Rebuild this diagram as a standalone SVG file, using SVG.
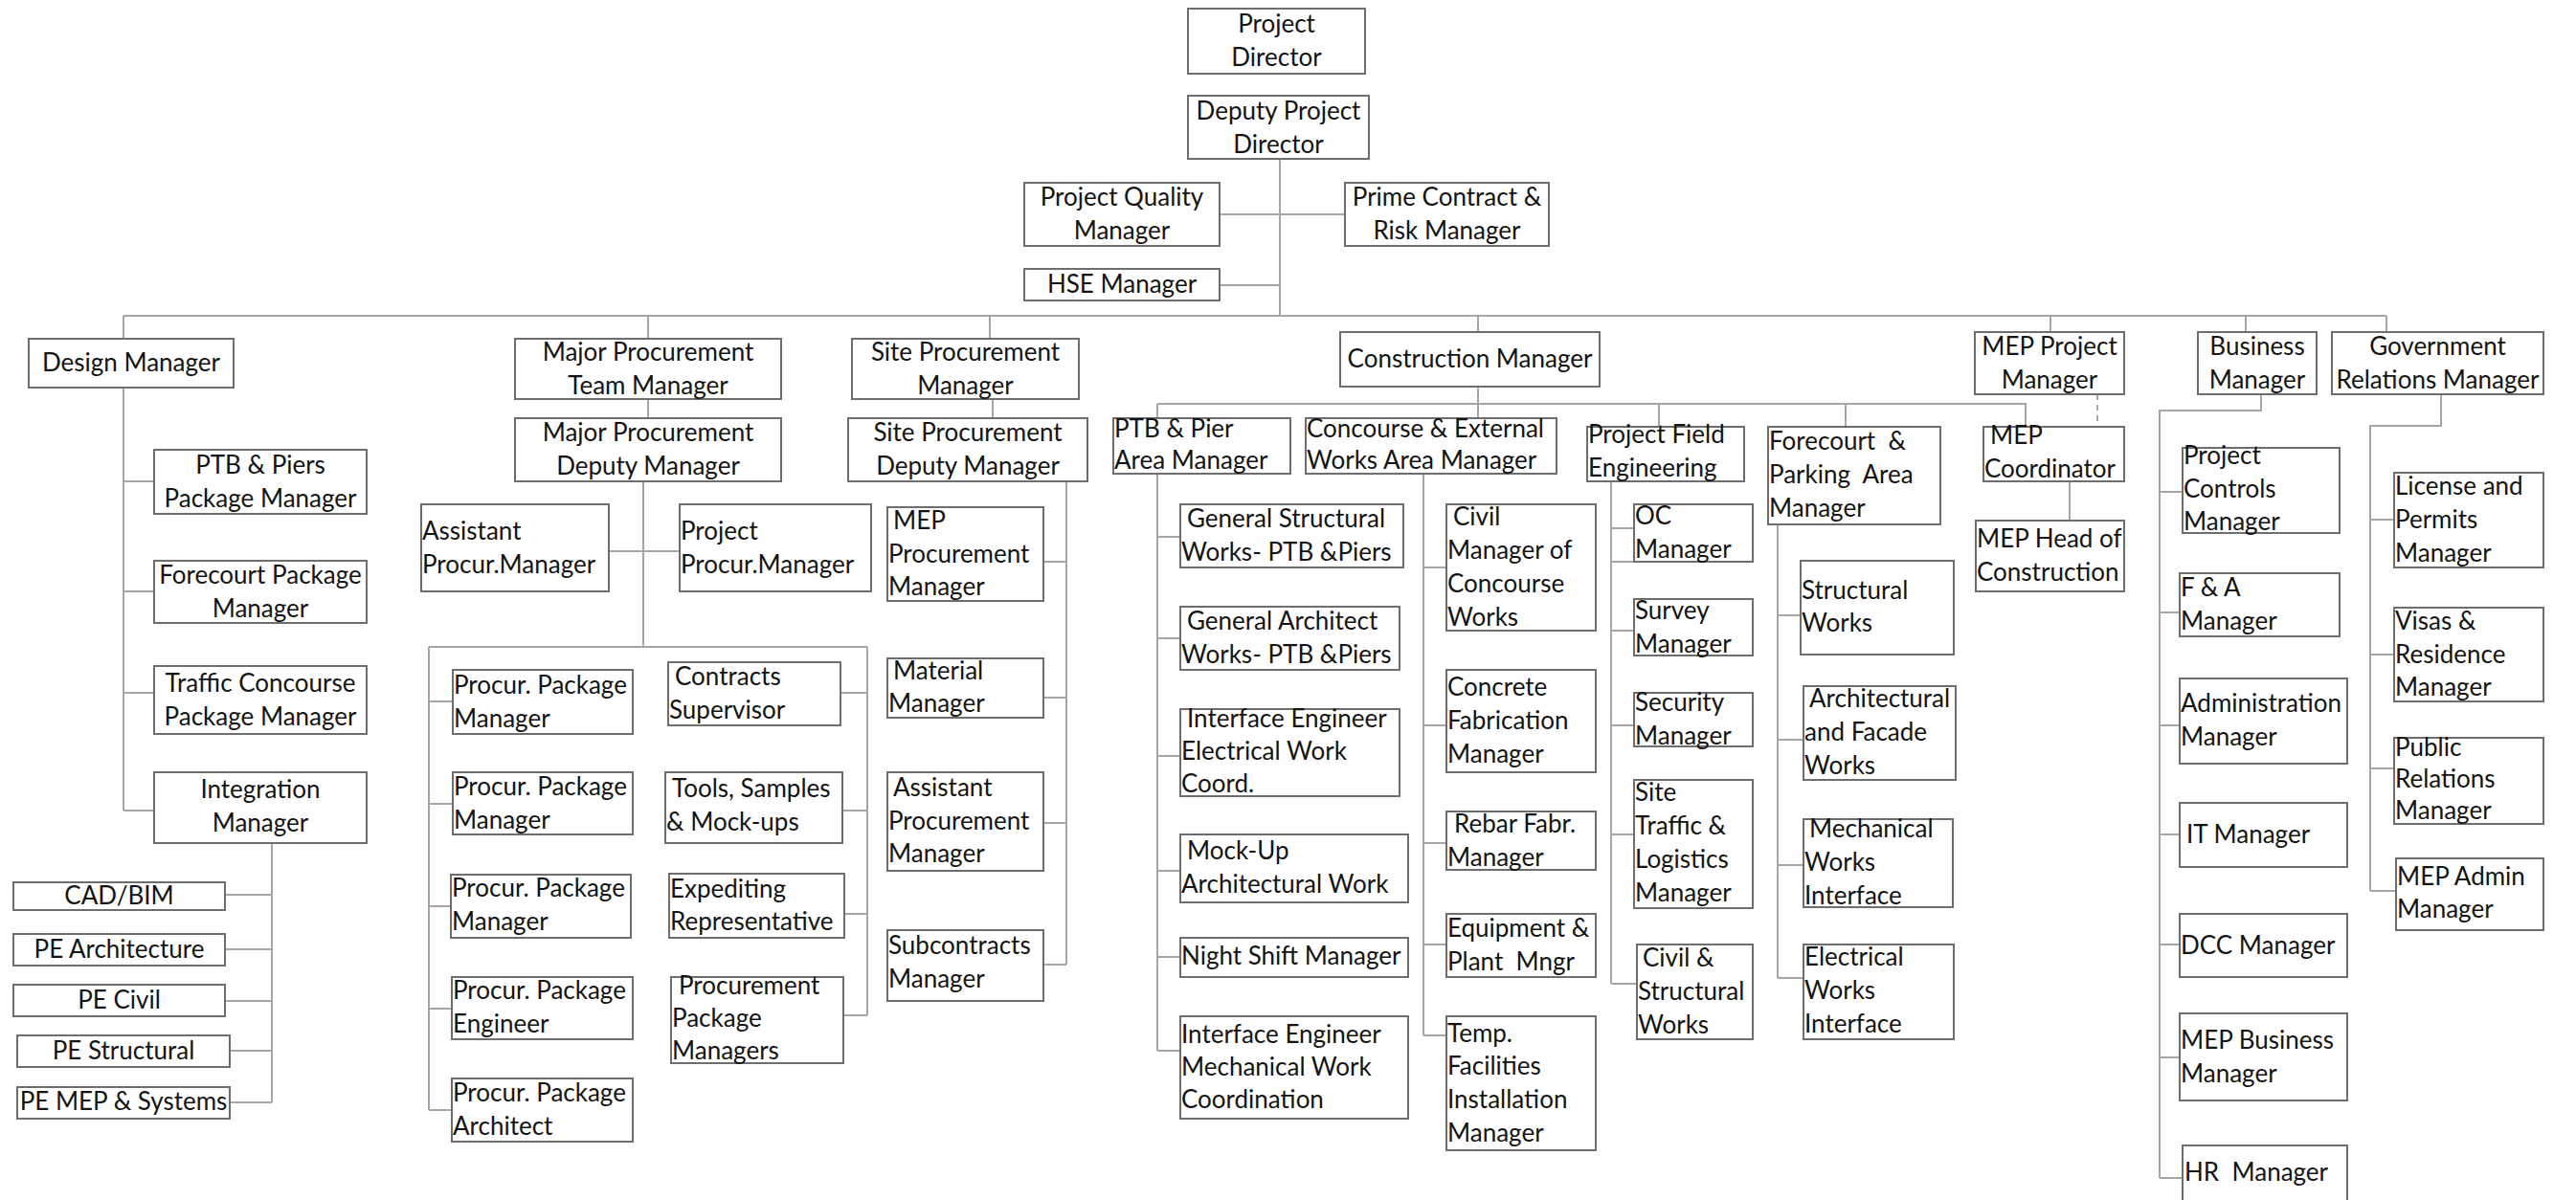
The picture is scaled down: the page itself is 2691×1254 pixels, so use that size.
<svg xmlns="http://www.w3.org/2000/svg" width="2691" height="1254" viewBox="0 0 2691 1254">
<style>
  .bg { fill: #ffffff; }
  .box { fill: #ffffff; stroke: #6e6e6e; stroke-width: 2; }
  .lbl { font-family: Lato, "Liberation Sans", sans-serif; font-size: 26px; fill: #141414; }
  .c { text-anchor: middle; }
  .wire { fill: none; stroke: #a6a6a6; stroke-width: 2; }
  .dash { fill: none; stroke: #a6a6a6; stroke-width: 2; stroke-dasharray: 6 5; }
</style>
<rect class="bg" x="0" y="0" width="2691" height="1254"/>

<!-- reporting lines -->
<g id="connectors">
  <!-- executive level -->
  <path class="wire" d="M1337 166V330M1274 224H1405M1274 298H1337"/>
  <path class="wire" d="M129 330H2493M129 330V354M677 330V354M1034 330V354M1544 330V347M2142 330V347M2346 330V347M2493 330V347"/>
  <!-- design -->
  <path class="wire" d="M129 405V847M129 503H161M129 618H161M129 724H161M129 847H161"/>
  <path class="wire" d="M284 881V1152M235 935H284M235 992H284M235 1046H284M240 1098H284M240 1152H284"/>
  <!-- major procurement -->
  <path class="wire" d="M677 417V437M672 503V676M636 576H710M448 676H906M448 676V1160M906 676V1061"/>
  <path class="wire" d="M448 733H473M448 840H473M448 947H471M448 1054H472M448 1160H472"/>
  <path class="wire" d="M878 724H906M880 847H906M882 955H906M881 1061H906"/>
  <!-- site procurement -->
  <path class="wire" d="M1037 417V437M1114 503V1008M1090 587H1114M1090 729H1114M1090 860H1114M1090 1008H1114"/>
  <!-- construction -->
  <path class="wire" d="M1544 404V437M1209 422H2116V446M1209 422V437M1733 422V446M1928 422V446"/>
  <path class="wire" d="M1209 495V1098M1209 561H1233M1209 667H1233M1209 790H1233M1209 910H1233M1209 1000H1233M1209 1098H1233"/>
  <path class="wire" d="M1487 495V1082M1487 593H1511M1487 758H1511M1487 881H1511M1487 987H1511M1487 1082H1511"/>
  <path class="wire" d="M1683 503V1028M1683 552H1707M1683 587H1707M1683 659H1707M1683 758H1707M1683 872H1707M1683 1028H1710"/>
  <path class="wire" d="M1857 548V1022M1857 643H1881M1857 773H1884M1857 904H1884M1857 1022H1884"/>
  <!-- MEP -->
  <path class="dash" d="M2191 412V446"/>
  <path class="wire" d="M2162 503V544"/>
  <!-- business -->
  <path class="wire" d="M2362 412V429H2256V1231M2256 514H2280M2256 640H2277M2256 758H2277M2256 872H2277M2256 987H2277M2256 1105H2277M2256 1231H2280"/>
  <!-- government relations -->
  <path class="wire" d="M2550 412V445H2476V931M2476 543H2501M2476 684H2501M2476 803H2501M2476 931H2503"/>
</g>

<!-- executive -->
<g id="project-director"><rect class="box" x="1241" y="9" width="185" height="68"/><text class="lbl c"><tspan x="1333.5" y="34">Project</tspan><tspan x="1333.5" y="69">Director</tspan></text></g>
<g id="deputy-project-director"><rect class="box" x="1241" y="100" width="189" height="66"/><text class="lbl c"><tspan x="1335.5" y="125">Deputy Project</tspan><tspan x="1335.5" y="160">Director</tspan></text></g>
<g id="project-quality-manager"><rect class="box" x="1070" y="191" width="204" height="66"/><text class="lbl c"><tspan x="1172" y="215">Project Quality</tspan><tspan x="1172" y="250">Manager</tspan></text></g>
<g id="prime-contract-risk-manager"><rect class="box" x="1405" y="191" width="213" height="66"/><text class="lbl c"><tspan x="1511.5" y="215">Prime Contract &amp;</tspan><tspan x="1511.5" y="250">Risk Manager</tspan></text></g>
<g id="hse-manager"><rect class="box" x="1070" y="281" width="204" height="33"/><text class="lbl c"><tspan x="1172" y="306">HSE Manager</tspan></text></g>

<!-- department heads -->
<g id="design-manager"><rect class="box" x="30" y="354" width="214" height="51"/><text class="lbl c"><tspan x="137" y="388">Design Manager</tspan></text></g>
<g id="major-procurement-team-manager"><rect class="box" x="538" y="354" width="278" height="63"/><text class="lbl c"><tspan x="677" y="377">Major Procurement</tspan><tspan x="677" y="412">Team Manager</tspan></text></g>
<g id="site-procurement-manager"><rect class="box" x="890" y="354" width="237" height="63"/><text class="lbl c"><tspan x="1008.5" y="377">Site Procurement</tspan><tspan x="1008.5" y="412">Manager</tspan></text></g>
<g id="construction-manager"><rect class="box" x="1400" y="347" width="271" height="57"/><text class="lbl c"><tspan x="1535.5" y="384">Construction Manager</tspan></text></g>
<g id="mep-project-manager"><rect class="box" x="2063" y="347" width="156" height="65"/><text class="lbl c"><tspan x="2141" y="371">MEP Project</tspan><tspan x="2141" y="406">Manager</tspan></text></g>
<g id="business-manager"><rect class="box" x="2296" y="347" width="124" height="65"/><text class="lbl c"><tspan x="2358" y="371">Business</tspan><tspan x="2358" y="406">Manager</tspan></text></g>
<g id="government-relations-manager"><rect class="box" x="2436" y="347" width="221" height="65"/><text class="lbl c"><tspan x="2546.5" y="371">Government</tspan><tspan x="2546.5" y="406">Relations Manager</tspan></text></g>

<!-- design -->
<g id="ptb-piers-package-manager"><rect class="box" x="161" y="470" width="222" height="67"/><text class="lbl c"><tspan x="272" y="495">PTB &amp; Piers</tspan><tspan x="272" y="530">Package Manager</tspan></text></g>
<g id="forecourt-package-manager"><rect class="box" x="161" y="586" width="222" height="65"/><text class="lbl c"><tspan x="272" y="610">Forecourt Package</tspan><tspan x="272" y="645">Manager</tspan></text></g>
<g id="traffic-concourse-package-manager"><rect class="box" x="161" y="696" width="222" height="71"/><text class="lbl c"><tspan x="272" y="723">Traffic Concourse</tspan><tspan x="272" y="758">Package Manager</tspan></text></g>
<g id="integration-manager"><rect class="box" x="161" y="807" width="222" height="74"/><text class="lbl c"><tspan x="272" y="834">Integration</tspan><tspan x="272" y="869">Manager</tspan></text></g>
<g id="cad-bim"><rect class="box" x="14" y="922" width="221" height="29"/><text class="lbl c"><tspan x="124.5" y="945">CAD/BIM</tspan></text></g>
<g id="pe-architecture"><rect class="box" x="14" y="976" width="221" height="33"/><text class="lbl c"><tspan x="124.5" y="1001">PE Architecture</tspan></text></g>
<g id="pe-civil"><rect class="box" x="14" y="1029" width="221" height="33"/><text class="lbl c"><tspan x="124.5" y="1054">PE Civil</tspan></text></g>
<g id="pe-structural"><rect class="box" x="18" y="1082" width="222" height="33"/><text class="lbl c"><tspan x="129" y="1107">PE Structural</tspan></text></g>
<g id="pe-mep-systems"><rect class="box" x="18" y="1136" width="222" height="33"/><text class="lbl c"><tspan x="129" y="1160">PE MEP &amp; Systems</tspan></text></g>

<!-- major procurement -->
<g id="major-procurement-deputy-manager"><rect class="box" x="538" y="437" width="278" height="66"/><text class="lbl c"><tspan x="677" y="461">Major Procurement</tspan><tspan x="677" y="496">Deputy Manager</tspan></text></g>
<g id="assistant-procur-manager"><rect class="box" x="440" y="527" width="196" height="91"/><text class="lbl"><tspan x="441" y="564">Assistant</tspan><tspan x="441" y="599">Procur.Manager</tspan></text></g>
<g id="project-procur-manager"><rect class="box" x="710" y="527" width="200" height="91"/><text class="lbl"><tspan x="711" y="564">Project</tspan><tspan x="711" y="599">Procur.Manager</tspan></text></g>
<g id="procur-package-manager-1"><rect class="box" x="473" y="700" width="188" height="67"/><text class="lbl"><tspan x="474" y="725">Procur. Package</tspan><tspan x="474" y="760">Manager</tspan></text></g>
<g id="procur-package-manager-2"><rect class="box" x="473" y="807" width="188" height="65"/><text class="lbl"><tspan x="474" y="831">Procur. Package</tspan><tspan x="474" y="866">Manager</tspan></text></g>
<g id="procur-package-manager-3"><rect class="box" x="471" y="914" width="188" height="66"/><text class="lbl"><tspan x="472" y="937">Procur. Package</tspan><tspan x="472" y="972">Manager</tspan></text></g>
<g id="procur-package-engineer"><rect class="box" x="472" y="1021" width="189" height="65"/><text class="lbl"><tspan x="473" y="1044">Procur. Package</tspan><tspan x="473" y="1079">Engineer</tspan></text></g>
<g id="procur-package-architect"><rect class="box" x="472" y="1127" width="189" height="66"/><text class="lbl"><tspan x="473" y="1151">Procur. Package</tspan><tspan x="473" y="1186">Architect</tspan></text></g>
<g id="contracts-supervisor"><rect class="box" x="698" y="692" width="180" height="66"/><text class="lbl"><tspan x="705" y="716">Contracts</tspan><tspan x="699" y="751">Supervisor</tspan></text></g>
<g id="tools-samples-mockups"><rect class="box" x="695" y="807" width="185" height="74"/><text class="lbl"><tspan x="702" y="833">Tools, Samples</tspan><tspan x="696" y="868">&amp; Mock-ups</tspan></text></g>
<g id="expediting-representative"><rect class="box" x="699" y="913" width="183" height="67"/><text class="lbl"><tspan x="700" y="938">Expediting</tspan><tspan x="700" y="972">Representative</tspan></text></g>
<g id="procurement-package-managers"><rect class="box" x="701" y="1021" width="180" height="90"/><text class="lbl"><tspan x="709" y="1039">Procurement</tspan><tspan x="702" y="1073">Package</tspan><tspan x="702" y="1107">Managers</tspan></text></g>

<!-- site procurement -->
<g id="site-procurement-deputy-manager"><rect class="box" x="886" y="437" width="250" height="66"/><text class="lbl c"><tspan x="1011" y="461">Site Procurement</tspan><tspan x="1011" y="496">Deputy Manager</tspan></text></g>
<g id="mep-procurement-manager"><rect class="box" x="927" y="530" width="163" height="98"/><text class="lbl"><tspan x="933" y="553">MEP</tspan><tspan x="928" y="588">Procurement</tspan><tspan x="928" y="622">Manager</tspan></text></g>
<g id="material-manager"><rect class="box" x="927" y="688" width="163" height="62"/><text class="lbl"><tspan x="933" y="710">Material</tspan><tspan x="928" y="744">Manager</tspan></text></g>
<g id="assistant-procurement-manager"><rect class="box" x="927" y="807" width="163" height="103"/><text class="lbl"><tspan x="933" y="832">Assistant</tspan><tspan x="928" y="867">Procurement</tspan><tspan x="928" y="901">Manager</tspan></text></g>
<g id="subcontracts-manager"><rect class="box" x="927" y="972" width="163" height="74"/><text class="lbl"><tspan x="928" y="997">Subcontracts</tspan><tspan x="928" y="1032">Manager</tspan></text></g>

<!-- construction: area managers -->
<g id="ptb-pier-area-manager"><rect class="box" x="1163" y="437" width="185" height="58"/><text class="lbl"><tspan x="1164" y="457">PTB &amp; Pier</tspan><tspan x="1164" y="490">Area Manager</tspan></text></g>
<g id="concourse-external-works-area-manager"><rect class="box" x="1364" y="437" width="262" height="58"/><text class="lbl"><tspan x="1365" y="457">Concourse &amp; External</tspan><tspan x="1365" y="490">Works Area Manager</tspan></text></g>
<g id="project-field-engineering"><rect class="box" x="1658" y="446" width="164" height="57"/><text class="lbl"><tspan x="1659" y="463">Project Field</tspan><tspan x="1659" y="498">Engineering</tspan></text></g>
<g id="forecourt-parking-area-manager"><rect class="box" x="1847" y="446" width="180" height="102"/><text class="lbl" xml:space="preserve"><tspan x="1848" y="470">Forecourt  &amp;</tspan><tspan x="1848" y="505">Parking  Area</tspan><tspan x="1848" y="540">Manager</tspan></text></g>

<!-- PTB & Pier -->
<g id="general-structural-works"><rect class="box" x="1233" y="527" width="233" height="66"/><text class="lbl"><tspan x="1240" y="551">General Structural</tspan><tspan x="1234" y="586">Works- PTB &amp;Piers</tspan></text></g>
<g id="general-architect-works"><rect class="box" x="1233" y="634" width="229" height="66"/><text class="lbl"><tspan x="1240" y="658">General Architect</tspan><tspan x="1234" y="693">Works- PTB &amp;Piers</tspan></text></g>
<g id="interface-engineer-electrical"><rect class="box" x="1233" y="741" width="229" height="91"/><text class="lbl"><tspan x="1240" y="760">Interface Engineer</tspan><tspan x="1234" y="794">Electrical Work</tspan><tspan x="1234" y="828">Coord.</tspan></text></g>
<g id="mockup-architectural-work"><rect class="box" x="1233" y="872" width="238" height="71"/><text class="lbl"><tspan x="1240" y="898">Mock-Up</tspan><tspan x="1234" y="933">Architectural Work</tspan></text></g>
<g id="night-shift-manager"><rect class="box" x="1233" y="980" width="238" height="41"/><text class="lbl"><tspan x="1234" y="1008">Night Shift Manager</tspan></text></g>
<g id="interface-engineer-mechanical"><rect class="box" x="1233" y="1062" width="238" height="107"/><text class="lbl"><tspan x="1234" y="1090">Interface Engineer</tspan><tspan x="1234" y="1124">Mechanical Work</tspan><tspan x="1234" y="1158">Coordination</tspan></text></g>

<!-- Concourse & External Works -->
<g id="civil-manager-concourse"><rect class="box" x="1511" y="527" width="156" height="132"/><text class="lbl"><tspan x="1518" y="549">Civil</tspan><tspan x="1512" y="584">Manager of</tspan><tspan x="1512" y="619">Concourse</tspan><tspan x="1512" y="654">Works</tspan></text></g>
<g id="concrete-fabrication-manager"><rect class="box" x="1511" y="700" width="156" height="107"/><text class="lbl"><tspan x="1512" y="727">Concrete</tspan><tspan x="1512" y="762">Fabrication</tspan><tspan x="1512" y="797">Manager</tspan></text></g>
<g id="rebar-fabr-manager"><rect class="box" x="1511" y="848" width="156" height="61"/><text class="lbl"><tspan x="1519" y="870">Rebar Fabr.</tspan><tspan x="1512" y="905">Manager</tspan></text></g>
<g id="equipment-plant-manager"><rect class="box" x="1511" y="955" width="156" height="66"/><text class="lbl" xml:space="preserve"><tspan x="1512" y="979">Equipment &amp;</tspan><tspan x="1512" y="1014">Plant  Mngr</tspan></text></g>
<g id="temp-facilities-installation-manager"><rect class="box" x="1511" y="1062" width="156" height="140"/><text class="lbl"><tspan x="1512" y="1089">Temp.</tspan><tspan x="1512" y="1123">Facilities</tspan><tspan x="1512" y="1158">Installation</tspan><tspan x="1512" y="1193">Manager</tspan></text></g>

<!-- Project Field Engineering -->
<g id="oc-manager"><rect class="box" x="1707" y="527" width="124" height="60"/><text class="lbl"><tspan x="1708" y="548">OC</tspan><tspan x="1708" y="583">Manager</tspan></text></g>
<g id="survey-manager"><rect class="box" x="1707" y="626" width="124" height="59"/><text class="lbl"><tspan x="1708" y="647">Survey</tspan><tspan x="1708" y="682">Manager</tspan></text></g>
<g id="security-manager"><rect class="box" x="1707" y="724" width="124" height="56"/><text class="lbl"><tspan x="1708" y="743">Security</tspan><tspan x="1708" y="778">Manager</tspan></text></g>
<g id="site-traffic-logistics-manager"><rect class="box" x="1707" y="815" width="124" height="134"/><text class="lbl"><tspan x="1708" y="837">Site</tspan><tspan x="1708" y="872">Traffic &amp;</tspan><tspan x="1708" y="907">Logistics</tspan><tspan x="1708" y="942">Manager</tspan></text></g>
<g id="civil-structural-works"><rect class="box" x="1710" y="987" width="121" height="99"/><text class="lbl"><tspan x="1716" y="1010">Civil &amp;</tspan><tspan x="1711" y="1045">Structural</tspan><tspan x="1711" y="1080">Works</tspan></text></g>

<!-- Forecourt & Parking -->
<g id="structural-works"><rect class="box" x="1881" y="586" width="160" height="98"/><text class="lbl"><tspan x="1882" y="626">Structural</tspan><tspan x="1882" y="660">Works</tspan></text></g>
<g id="architectural-facade-works"><rect class="box" x="1884" y="717" width="159" height="98"/><text class="lbl"><tspan x="1890" y="739">Architectural</tspan><tspan x="1885" y="774">and Facade</tspan><tspan x="1885" y="809">Works</tspan></text></g>
<g id="mechanical-works-interface"><rect class="box" x="1884" y="856" width="156" height="92"/><text class="lbl"><tspan x="1890" y="875">Mechanical</tspan><tspan x="1885" y="910">Works</tspan><tspan x="1885" y="945">Interface</tspan></text></g>
<g id="electrical-works-interface"><rect class="box" x="1884" y="987" width="157" height="99"/><text class="lbl"><tspan x="1885" y="1009">Electrical</tspan><tspan x="1885" y="1044">Works</tspan><tspan x="1885" y="1079">Interface</tspan></text></g>

<!-- MEP -->
<g id="mep-coordinator"><rect class="box" x="2072" y="446" width="147" height="57"/><text class="lbl"><tspan x="2079" y="464">MEP</tspan><tspan x="2073" y="499">Coordinator</tspan></text></g>
<g id="mep-head-of-construction"><rect class="box" x="2064" y="544" width="155" height="74"/><text class="lbl"><tspan x="2065" y="572">MEP Head of</tspan><tspan x="2065" y="607">Construction</tspan></text></g>

<!-- business -->
<g id="project-controls-manager"><rect class="box" x="2280" y="468" width="164" height="89"/><text class="lbl"><tspan x="2281" y="485">Project</tspan><tspan x="2281" y="520">Controls</tspan><tspan x="2281" y="554">Manager</tspan></text></g>
<g id="fa-manager"><rect class="box" x="2277" y="599" width="167" height="66"/><text class="lbl"><tspan x="2278" y="623">F &amp; A</tspan><tspan x="2278" y="658">Manager</tspan></text></g>
<g id="administration-manager"><rect class="box" x="2277" y="709" width="175" height="89"/><text class="lbl"><tspan x="2278" y="744">Administration</tspan><tspan x="2278" y="779">Manager</tspan></text></g>
<g id="it-manager"><rect class="box" x="2277" y="839" width="175" height="67"/><text class="lbl"><tspan x="2284" y="881">IT Manager</tspan></text></g>
<g id="dcc-manager"><rect class="box" x="2277" y="955" width="175" height="66"/><text class="lbl"><tspan x="2278" y="997">DCC Manager</tspan></text></g>
<g id="mep-business-manager"><rect class="box" x="2277" y="1059" width="175" height="91"/><text class="lbl"><tspan x="2278" y="1096">MEP Business</tspan><tspan x="2278" y="1131">Manager</tspan></text></g>
<g id="hr-manager"><rect class="box" x="2280" y="1197" width="172" height="80"/><text class="lbl" xml:space="preserve"><tspan x="2282" y="1234">HR  Manager</tspan></text></g>

<!-- government relations -->
<g id="license-permits-manager"><rect class="box" x="2501" y="494" width="156" height="99"/><text class="lbl"><tspan x="2502" y="517">License and</tspan><tspan x="2502" y="552">Permits</tspan><tspan x="2502" y="587">Manager</tspan></text></g>
<g id="visas-residence-manager"><rect class="box" x="2501" y="635" width="156" height="98"/><text class="lbl"><tspan x="2502" y="658">Visas &amp;</tspan><tspan x="2502" y="693">Residence</tspan><tspan x="2502" y="727">Manager</tspan></text></g>
<g id="public-relations-manager"><rect class="box" x="2501" y="771" width="156" height="90"/><text class="lbl"><tspan x="2502" y="790">Public</tspan><tspan x="2502" y="823">Relations</tspan><tspan x="2502" y="856">Manager</tspan></text></g>
<g id="mep-admin-manager"><rect class="box" x="2503" y="897" width="154" height="75"/><text class="lbl"><tspan x="2504" y="925">MEP Admin</tspan><tspan x="2504" y="959">Manager</tspan></text></g>
</svg>
